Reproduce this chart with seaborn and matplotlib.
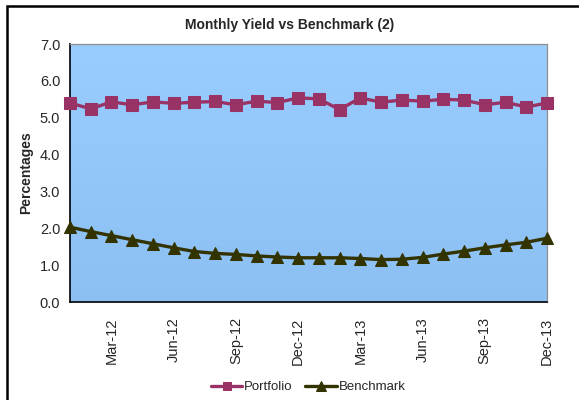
import numpy as np
import pandas as pd
import matplotlib
matplotlib.use('Agg')
import matplotlib.pyplot as plt
import seaborn as sns
from matplotlib.patches import Rectangle

months = ['Jan-12', 'Feb-12', 'Mar-12', 'Apr-12', 'May-12', 'Jun-12',
          'Jul-12', 'Aug-12', 'Sep-12', 'Oct-12', 'Nov-12', 'Dec-12',
          'Jan-13', 'Feb-13', 'Mar-13', 'Apr-13', 'May-13', 'Jun-13',
          'Jul-13', 'Aug-13', 'Sep-13', 'Oct-13', 'Nov-13', 'Dec-13']
portfolio = [5.40, 5.24, 5.43, 5.35, 5.43, 5.39, 5.42, 5.44, 5.35, 5.45, 5.41, 5.54,
             5.51, 5.22, 5.54, 5.42, 5.48, 5.45, 5.50, 5.48, 5.35, 5.42, 5.29, 5.40]
benchmark = [2.03, 1.91, 1.80, 1.69, 1.58, 1.47, 1.37, 1.32, 1.29, 1.25, 1.22, 1.20,
             1.20, 1.20, 1.18, 1.15, 1.16, 1.21, 1.30, 1.38, 1.47, 1.55, 1.62, 1.73]
shown_labels = ['Mar-12', 'Jun-12', 'Sep-12', 'Dec-12',
                'Mar-13', 'Jun-13', 'Sep-13', 'Dec-13']

sns.set_style('white')
plt.rcParams['font.family'] = ['Liberation Sans', 'DejaVu Sans']

df = pd.DataFrame({'idx': range(len(months)), 'month': months,
                   'Portfolio': portfolio, 'Benchmark': benchmark})

fig = plt.figure(figsize=(5.79, 4.0), dpi=100)
ax = fig.add_axes([70/579, 1 - 302/400, 477/579, 258/400])

# gradient background of plot area
grad = np.linspace(0, 1, 256).reshape(-1, 1)
top = np.array([0.60, 0.80, 1.00])
bot = np.array([0.55, 0.75, 0.95])
img = top + (bot - top) * grad[:, :, None]
ax.imshow(img, extent=[0, 1, 0, 1], transform=ax.transAxes,
          aspect='auto', zorder=0)

sns.lineplot(data=df, x='idx', y='Portfolio', ax=ax, color='#993366',
             marker='s', markersize=8, markeredgecolor='#993366',
             linewidth=2.4, label='Portfolio', legend=False, zorder=3,
             clip_on=False)
sns.lineplot(data=df, x='idx', y='Benchmark', ax=ax, color='#333300',
             marker='^', markersize=9, markeredgecolor='#333300',
             linewidth=2.4, label='Benchmark', legend=False, zorder=3,
             clip_on=False)

ax.set_xlim(0, len(months) - 1)
ax.set_ylim(0, 7)
ax.set_yticks(np.arange(0, 7.5, 1.0))
ax.set_yticklabels([f'{v:.1f}' for v in np.arange(0, 7.5, 1.0)], fontsize=10.5)
ax.set_xticks(range(len(months)))
ax.set_xticklabels([m if m in shown_labels else '' for m in months],
                   rotation=90, fontsize=10.5)
ax.tick_params(axis='both', direction='inout', length=8, width=1,
               color='black', pad=3)
ax.tick_params(axis='x', pad=7)
ax.set_xlabel('')
ax.set_ylabel('Percentages', fontsize=10, fontweight='bold', labelpad=5)

for s in ['left', 'bottom']:
    ax.spines[s].set_color('black')
    ax.spines[s].set_linewidth(1.2)
for s in ['top', 'right']:
    ax.spines[s].set_color('#909090')
    ax.spines[s].set_linewidth(0.9)

fig.text(290/579, 1 - 25/400, 'Monthly Yield vs Benchmark (2)',
         ha='center', va='center', fontsize=10, fontweight='bold')

handles, labels = ax.get_legend_handles_labels()
fig.legend(handles, labels, loc='center', ncol=2, frameon=False,
           bbox_to_anchor=(308/579, 1 - 387/400), fontsize=9.5,
           handlelength=2.4, columnspacing=1.0, handletextpad=0.1,
           markerscale=0.75)

# outer chart border (runs off the right and bottom edges)
fig.patches.append(Rectangle((7/579, -0.1), 1.2, 1 - 6/400 + 0.1,
                             transform=fig.transFigure, fill=False,
                             edgecolor='black', linewidth=1.8))

fig.savefig('out.png', dpi=100)
